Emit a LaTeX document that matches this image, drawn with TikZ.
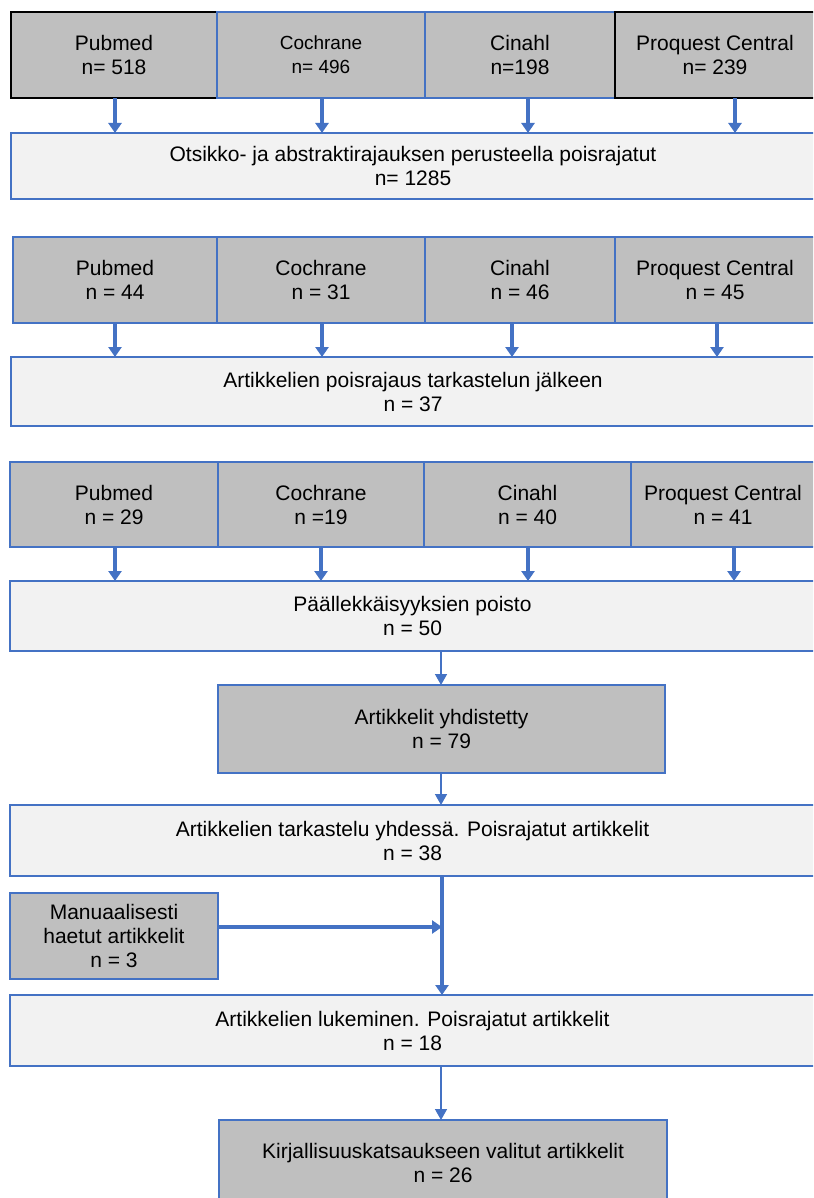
\documentclass[tikz,border=0pt]{standalone}
\usepackage{fontspec}
\setmainfont{Liberation Sans}
\usetikzlibrary{arrows.meta,calc}
\definecolor{obl}{HTML}{4472C4}
\definecolor{ogray}{HTML}{BFBFBF}
\definecolor{olight}{HTML}{F2F2F2}
\tikzset{
  base/.style={rectangle, inner sep=0pt, outer sep=0pt, align=center, text=black,
    font=\fontsize{21}{24}\selectfont, line width=1.5pt},
  gbox/.style={base, fill=ogray, draw=obl},
  kbox/.style={base, fill=ogray, draw=black, line width=2pt},
  lbox/.style={base, fill=olight, draw=obl},
  thickarr/.style={draw=obl, line width=3.5pt, -{Triangle[width=13pt,length=10pt]}},
  thinarr/.style={draw=obl, line width=1.5pt, -{Triangle[width=12pt,length=11pt]}},
  thickline/.style={draw=obl, line width=3pt},
}
\begin{document}
\begin{tikzpicture}[x=1pt,y=-1pt]
\useasboundingbox (0,0) rectangle (813,1198);
\fill[white] (0,0) rectangle (813,1198);
\clip (0,0) rectangle (813,1198);

% Row 1
\node[kbox, minimum width=206, minimum height=86] (a1) at (114,55) {Pubmed\\n= 518};
\node[gbox, minimum width=208, minimum height=86, font=\fontsize{19}{24}\selectfont] (a2) at (321,55) {Cochrane\\n= 496};
\node[gbox, minimum width=190, minimum height=86, line width=2pt] (a3) at (520,55) {Cinahl\\n=198};
\node[kbox, minimum width=200, minimum height=86] (a4) at (715,55) {Proquest Central\\n= 239};
\node[lbox, minimum width=804, minimum height=66] (w1) at (413,166) {Otsikko- ja abstraktirajauksen perusteella poisrajatut\\n= 1285};
\draw[thickarr] (a1.south -| 115,0) -- (w1.north -| 115,0);
\draw[thickarr] (a2.south -| 322,0) -- (w1.north -| 322,0);
\draw[thickarr] (a3.south -| 528,0) -- (w1.north -| 528,0);
\draw[thickarr] (a4.south -| 735,0) -- (w1.north -| 735,0);

% Row 2
\node[gbox, minimum width=204, minimum height=86] (b1) at (115,280) {Pubmed\\n = 44};
\node[gbox, minimum width=208, minimum height=86] (b2) at (321,280) {Cochrane\\n = 31};
\node[gbox, minimum width=190, minimum height=86] (b3) at (520,280) {Cinahl\\n = 46};
\node[gbox, minimum width=200, minimum height=86] (b4) at (715,280) {Proquest Central\\n = 45};
\node[lbox, minimum width=804, minimum height=69] (w2) at (413,391.5) {Artikkelien poisrajaus tarkastelun jälkeen\\n = 37};
\draw[thickarr] (b1.south -| 115,0) -- (w2.north -| 115,0);
\draw[thickarr] (b2.south -| 322,0) -- (w2.north -| 322,0);
\draw[thickarr] (b3.south -| 512,0) -- (w2.north -| 512,0);
\draw[thickarr] (b4.south -| 717,0) -- (w2.north -| 717,0);

% Row 3
\node[gbox, minimum width=208, minimum height=85] (c1) at (114,504.5) {Pubmed\\n = 29};
\node[gbox, minimum width=206, minimum height=85] (c2) at (321,504.5) {Cochrane\\n =19};
\node[gbox, minimum width=207, minimum height=85] (c3) at (527.5,504.5) {Cinahl\\n = 40};
\node[gbox, minimum width=184, minimum height=85] (c4) at (723,504.5) {Proquest Central\\n = 41};
\node[lbox, minimum width=805, minimum height=70] (w3) at (412.5,616) {Päällekkäisyyksien poisto\\n = 50};
\draw[thickarr] (c1.south -| 115,0) -- (w3.north -| 115,0);
\draw[thickarr] (c2.south -| 321,0) -- (w3.north -| 321,0);
\draw[thickarr] (c3.south -| 528,0) -- (w3.north -| 528,0);
\draw[thickarr] (c4.south -| 734,0) -- (w3.north -| 734,0);

% Lower part
\node[gbox, minimum width=447, minimum height=88] (yh) at (441.5,729) {Artikkelit yhdistetty\\n = 79};
\draw[thinarr] (w3.south -| 441,0) -- (yh.north -| 441,0);
\node[lbox, minimum width=805, minimum height=71] (ta) at (412.5,840.5) {Artikkelien tarkastelu yhdessä. Poisrajatut artikkelit\\n = 38};
\draw[thinarr] (yh.south -| 441,0) -- (ta.north -| 441,0);

\node[gbox, minimum width=208, minimum height=86] (ma) at (114,936) {Manuaalisesti\\haetut artikkelit\\n = 3};
\node[lbox, minimum width=805, minimum height=71] (lu) at (412.5,1030.5) {Artikkelien lukeminen. Poisrajatut artikkelit\\n = 18};
\coordinate (j) at (442,927);
\draw[thickarr] (ta.south -| 442,0) -- (lu.north -| 442,0);
\draw[thickarr] (ma.east |- j) -- (j);

\node[gbox, minimum width=448, minimum height=85] (ki) at (443,1162.5) {Kirjallisuuskatsaukseen valitut artikkelit\\n = 26};
\draw[thinarr] (lu.south -| 441,0) -- (ki.north -| 441,0);
\end{tikzpicture}
\end{document}
